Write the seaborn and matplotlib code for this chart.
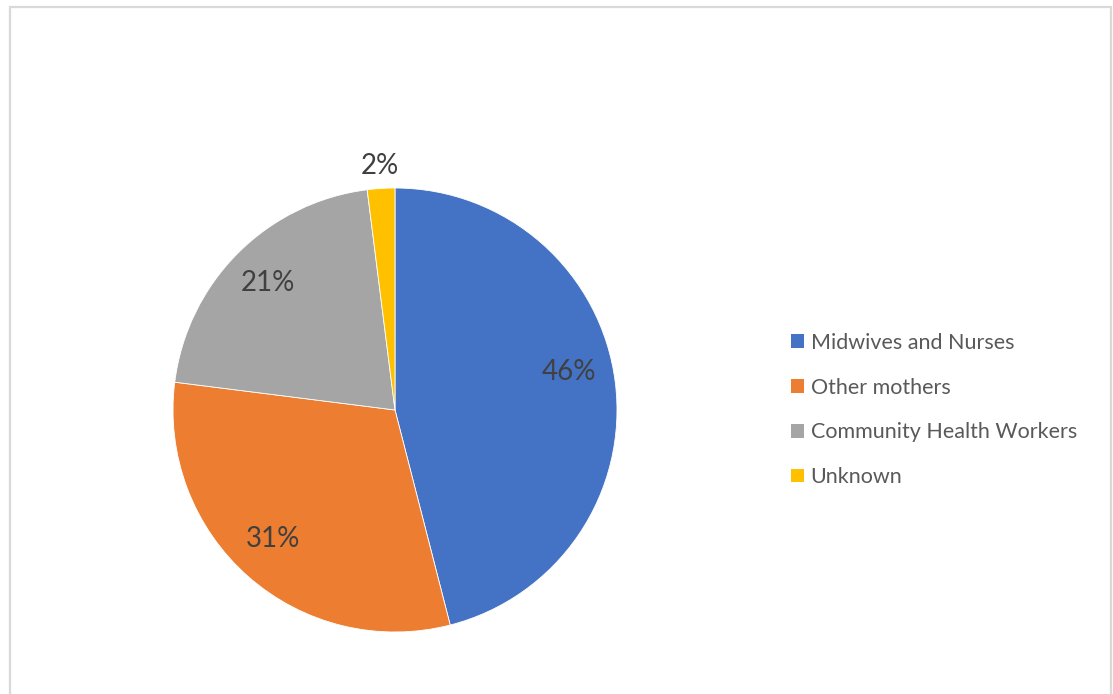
import matplotlib
matplotlib.use("Agg")
import matplotlib.pyplot as plt
from matplotlib.patches import Rectangle
import seaborn as sns
import numpy as np

categories = ["Midwives and Nurses", "Other mothers", "Community Health Workers", "Unknown"]
values = [46, 31, 21, 2]
colors = ["#4472C4", "#ED7D31", "#A5A5A5", "#FFC000"]

sns.set_theme(style="white")
plt.rcParams['font.family'] = ['Lato', 'DejaVu Sans']

W, H = 1113, 694
fig = plt.figure(figsize=(W / 100, H / 100), dpi=100)
fig.patch.set_facecolor("white")

# outer border
fig.patches.append(Rectangle((10 / W, -0.05), 1101 / W, 1.05 - 7 / H, transform=fig.transFigure,
                             fill=False, edgecolor="#d9d9d9", linewidth=1.6, zorder=0))

cx, cy, r = 395, 410, 222
ax = fig.add_axes([(cx - r) / W, (H - cy - r) / H, 2 * r / W, 2 * r / H])
wedges, _ = ax.pie(values, colors=sns.color_palette(colors), startangle=90, counterclock=False,
                   radius=1, wedgeprops=dict(edgecolor="white", linewidth=0.6))
ax.set_xlim(-1, 1)
ax.set_ylim(-1, 1)
ax.set_aspect("equal")
ax.axis("off")

dists = [0.8, 0.8, 0.81, 1.1]
nudges = [5, -2, 0, 0]
for w, v, d, n in zip(wedges, values, dists, nudges):
    ang = np.deg2rad((w.theta1 + w.theta2) / 2 + n)
    ax.text(d * np.cos(ang), d * np.sin(ang), f"{v}%", ha="center", va="center",
            fontsize=20, color="#404040", clip_on=False)

leg = fig.legend(wedges, categories, loc="center left", bbox_to_anchor=(772 / W, 1 - 410 / H),
                 frameon=False, fontsize=15.5, handlelength=0.6, handleheight=0.6,
                 handletextpad=0.3, labelspacing=1.15)
for t in leg.get_texts():
    t.set_color("#595959")
for h in leg.legend_handles:
    h.set_linewidth(0)

fig.savefig("out.png", dpi=100, facecolor="white")
